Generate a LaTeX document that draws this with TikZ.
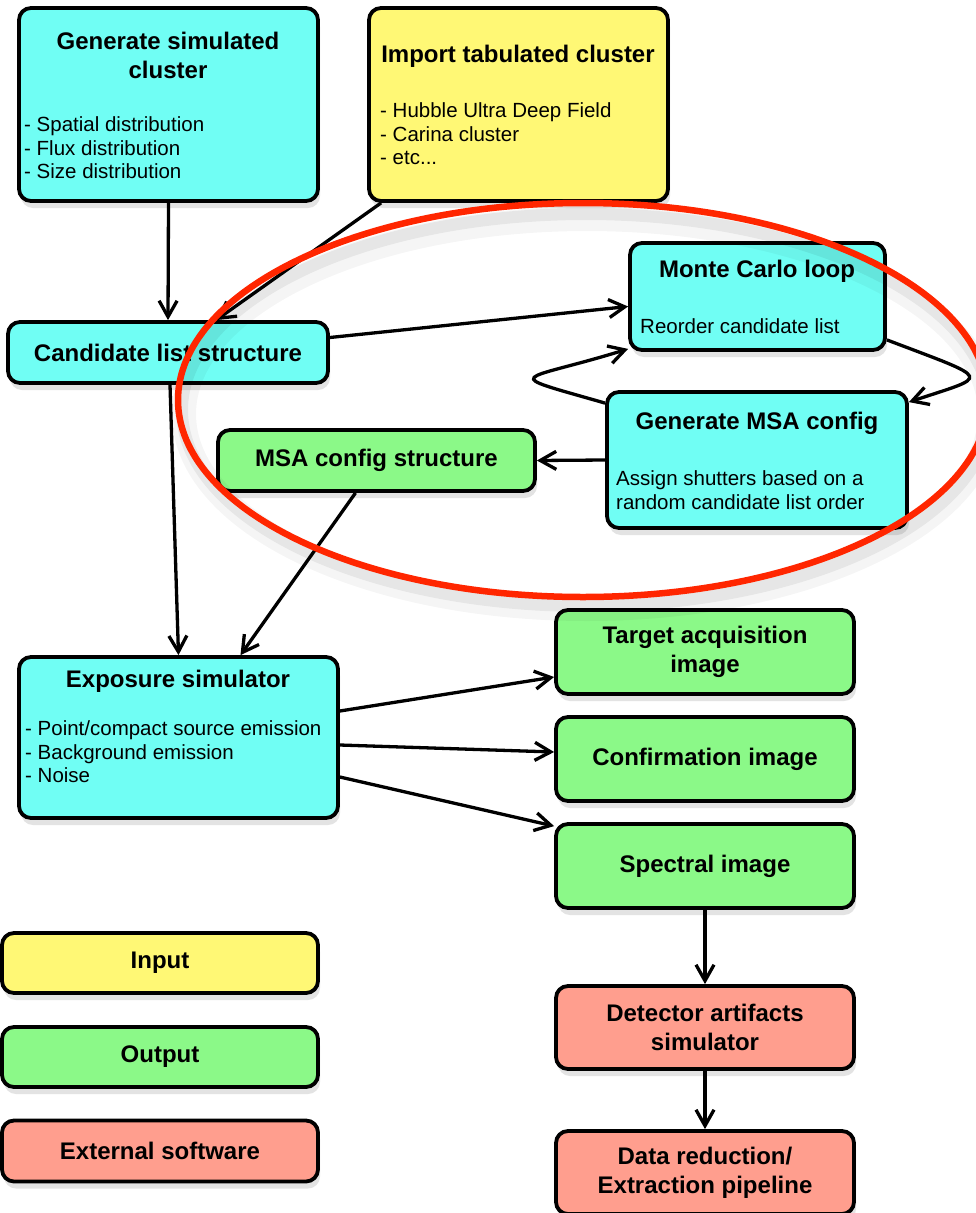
\documentclass[tikz,border=0pt]{standalone}
\usepackage{fontspec}
\setmainfont{Liberation Sans}
\usetikzlibrary{arrows.meta,shadows}
\definecolor{cyanc}{RGB}{112,254,244}
\definecolor{yelc}{RGB}{255,248,117}
\definecolor{grnc}{RGB}{139,249,136}
\definecolor{salc}{RGB}{255,158,142}
\definecolor{redc}{RGB}{255,38,0}
\begin{document}
\begin{tikzpicture}[x=1pt,y=-1pt,
  box/.style={draw=black, line width=3.8pt, rounded corners=12pt, inner sep=0pt,
    drop shadow={shadow xshift=2pt, shadow yshift=-7pt, opacity=0.22}},
  tfont/.style={font=\fontsize{24}{29}\selectfont\bfseries, align=center},
  title/.style={tfont, inner sep=0pt},
  items/.style={font=\fontsize{20.5}{23.5}\selectfont, align=left, anchor=west, inner sep=0pt},
  arr/.style={line width=3.3pt, -{Straight Barb[length=16pt,width=18pt]}},
  ring/.style={draw=redc, line width=6.5pt}
]
\useasboundingbox (0,0) rectangle (976,1213);
\fill[white] (0,0) rectangle (976,1213);

% boxes
\node[box, fill=cyanc, minimum width=299pt, minimum height=193pt] (gensim) at (168.5,104.5) {};
\node[title] (gensimt) at (168,55) {Generate simulated\\cluster};
\node[items] (gensimi) at (24,148) {- Spatial distribution\\- Flux distribution\\- Size distribution};

\node[box, fill=yelc, minimum width=299pt, minimum height=193pt] (import) at (518.5,104.5) {};
\node[title] (importt) at (518,56) {Import tabulated cluster};
\node[items] (importi) at (380,134) {- Hubble Ultra Deep Field\\- Carina cluster\\- etc...};

\node[box, fill=cyanc, minimum width=320pt, minimum height=61pt, tfont] (cand) at (168,352.5) {Candidate list structure};

\node[box, fill=cyanc, minimum width=255pt, minimum height=107pt] (mc) at (757.5,296.5) {};
\node[title] (mct) at (757,271) {Monte Carlo loop};
\node[items] (mci) at (640,326) {Reorder candidate list};

\node[box, fill=cyanc, minimum width=300pt, minimum height=136pt] (gmsa) at (757,460) {};
\node[title] (gmsat) at (757,423) {Generate MSA config};
\node[items] (gmsai) at (616,490) {Assign shutters based on a\\random candidate list order};

\node[box, fill=grnc, minimum width=317pt, minimum height=61pt, tfont] (msas) at (376.5,460.5) {MSA config structure};

\node[box, fill=cyanc, minimum width=319pt, minimum height=161pt] (exp) at (178.5,737.5) {};
\node[title] (expt) at (178,681) {Exposure simulator};
\node[items] (expi) at (25,752) {- Point/compact source emission\\- Background emission\\- Noise};

\node[box, fill=grnc, minimum width=298pt, minimum height=84pt, tfont] (tacq) at (705,652) {Target acquisition\\image};
\node[box, fill=grnc, minimum width=298pt, minimum height=84pt, tfont] (conf) at (705,759) {Confirmation image};
\node[box, fill=grnc, minimum width=298pt, minimum height=84pt, tfont] (spec) at (705,866) {Spectral image};
\node[box, fill=salc, minimum width=298pt, minimum height=83pt, tfont] (det) at (705,1027.5) {Detector artifacts\\simulator};
\node[box, fill=salc, minimum width=298pt, minimum height=83pt, tfont] (dred) at (705,1172.5) {Data reduction/\\Extraction pipeline};

\node[box, fill=yelc, minimum width=316pt, minimum height=60pt, tfont] (linput) at (160,963) {Input};
\node[box, fill=grnc, minimum width=316pt, minimum height=60pt, tfont] (loutput) at (160,1057) {Output};
\node[box, fill=salc, minimum width=316pt, minimum height=61pt, tfont] (lext) at (160,1151) {External software};

% connectors
\draw[arr] (gensim.south) -- (cand.north);
\draw[arr] ([xshift=14pt]import.south west) -- ([xshift=210pt]cand.north west);
\draw[arr] ([yshift=15pt]cand.east) -- ([yshift=-10pt]mc.west);
\draw[arr] ([yshift=12pt]mc.south east) .. controls (995,381) and (990,375) .. ([yshift=-12pt]gmsa.north east);
\draw[arr] ([yshift=-13pt]gmsa.north west) .. controls (497,372) and (518,383) .. ([yshift=3pt]mc.south west);
\draw[arr] (gmsa.west) -- (msas.east);
\draw[arr] ([xshift=2pt]cand.south) -- (exp.north);
\draw[arr] ([xshift=-21pt]msas.south) -- ([xshift=62pt]exp.north);
\draw[arr] ([yshift=26.5pt]exp.east) -- ([yshift=-25pt]tacq.west);
\draw[arr] ([yshift=-7.5pt]exp.east) -- ([yshift=7pt]conf.west);
\draw[arr] ([yshift=-39.5pt]exp.east) -- ([yshift=-4pt]spec.north west);
\draw[arr] (spec.south) -- (det.north);
\draw[arr] (det.south) -- (dred.north);

% red ellipse with soft shadow
\draw[black, opacity=0.04, line width=24pt] (587,414) ellipse [x radius=403pt, y radius=195pt];
\draw[black, opacity=0.06, line width=12pt] (586,410) ellipse [x radius=404pt, y radius=196pt];
\draw[ring] (583,400) ellipse [x radius=405pt, y radius=197pt];
\end{tikzpicture}
\end{document}
